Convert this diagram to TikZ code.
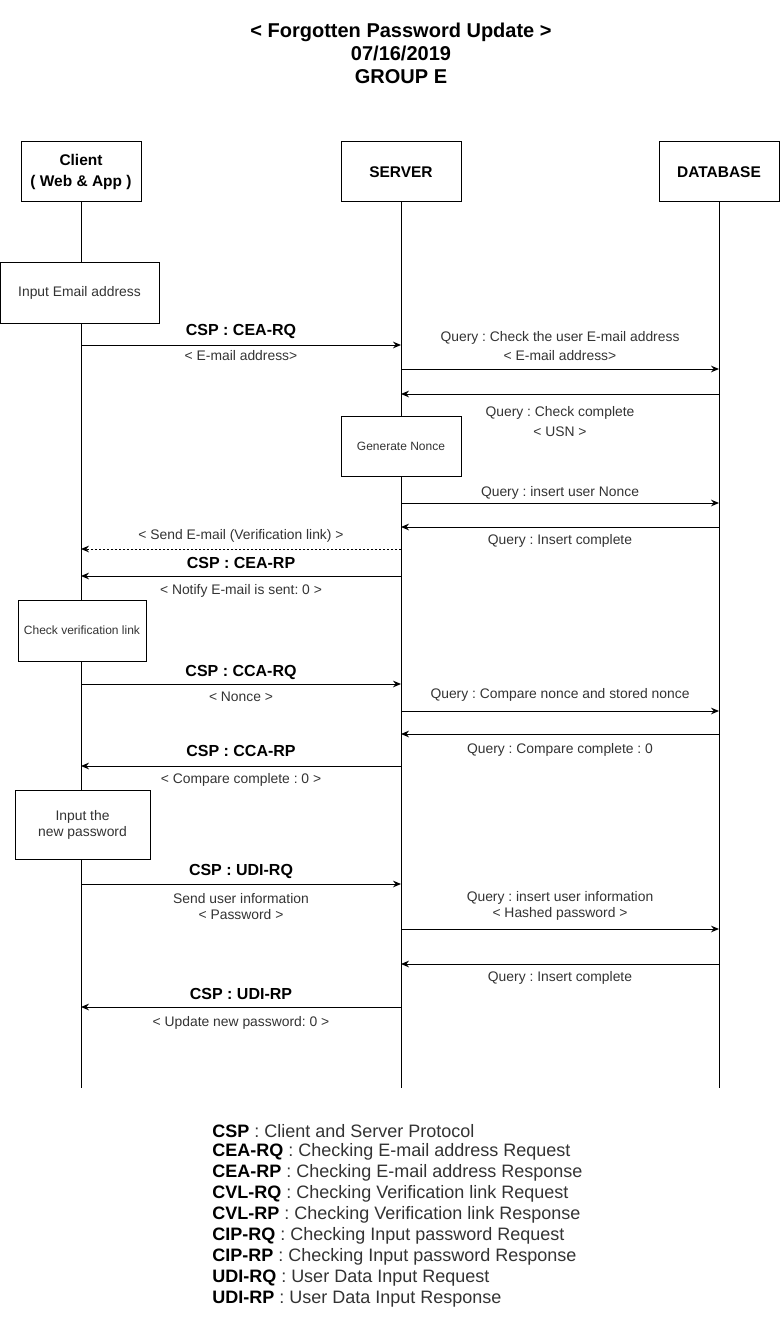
\documentclass[tikz,border=0pt]{standalone}
\usepackage{fontspec}
\setmainfont{Liberation Sans}
\usetikzlibrary{arrows.meta}
\definecolor{TxtClr}{RGB}{51,51,51}
\frenchspacing

\tikzset{
  actor/.style={draw, line width=0.75pt, fill=white, minimum width=90pt,
    minimum height=45pt, align=center, font=\fontsize{11.6}{15.5}\selectfont\bfseries},
  task/.style={draw, line width=0.75pt, fill=white, align=center, text=TxtClr,
    inner sep=0pt},
  life/.style={line width=0.75pt},
  msg/.style={line width=0.75pt, -{Stealth[length=6pt,width=5pt,inset=2pt]}},
  csp/.style={inner sep=0pt, font=\fontsize{12}{14}\selectfont\bfseries},
  qry/.style={inner sep=0pt, align=center, text=TxtClr, font=\fontsize{10.4}{12}\selectfont},
  legend/.style={inner sep=0pt, anchor=west, text=TxtClr, font=\fontsize{13.5}{15.75}\selectfont},
}

\begin{document}
\begin{tikzpicture}[x=0.75pt,y=-0.75pt]
\useasboundingbox (0,0) rectangle (779,1330);

% title
\node[align=center, font=\fontsize{15}{17.25}\selectfont\bfseries] (title) at (401,53)
  {< Forgotten Password Update >\\07/16/2019\\GROUP E};

% actors
\node[actor] (cli) at (81,172) {Client\\( Web \& App )};
\node[actor] (srv) at (401,172) {SERVER};
\node[actor] (db) at (719,172) {DATABASE};

\coordinate (cliEnd) at (81,1088);
\coordinate (srvEnd) at (401,1088);
\coordinate (dbEnd) at (719,1088);

\draw[life] (cli.south) -- (cliEnd);
\draw[life] (srv.south) -- (srvEnd);
\draw[life] (db.south) -- (dbEnd);

% local tasks
\node[task, minimum width=119.25pt, minimum height=45.75pt,
  font=\fontsize{10.4}{12}\selectfont] (inMail) at (79.5,292.5) {Input Email address};
\node[task, minimum width=90pt, minimum height=45pt,
  font=\fontsize{9}{11}\selectfont] (nonce) at (401,446) {Generate Nonce};
\node[task, minimum width=96pt, minimum height=45.75pt,
  font=\fontsize{9}{11}\selectfont] (chkLink) at (82,630.5) {Check verification link};
\node[task, minimum width=101.25pt, minimum height=51.75pt,
  font=\fontsize{10.4}{12}\selectfont] (inPw) at (82.5,824.5) {Input the\\new password};

% message rows on the lifelines
\foreach \r/\y in {a/345,b/369,c/394,d/503,e/527,f/549,g/576,h/684,i/711,j/734,k/766,
                   l/884,m/929,n/964,o/1007}{
  \coordinate (c\r) at (81,\y);
  \coordinate (s\r) at (401,\y);
  \coordinate (d\r) at (719,\y);
}

\draw[msg] (ca) -- (sa)
  node[csp, midway, yshift=10.5pt] {CSP : CEA-RQ}
  node[qry, midway, yshift=-8.25pt] {< E-mail address>};
\draw[msg] (sb) -- (db)
  node[qry, midway, yshift=17pt] {Query : Check the user E-mail address\\[2pt]< E-mail address>};
\draw[msg] (dc) -- (sc)
  node[qry, midway, yshift=-21pt] {Query : Check complete\\[3pt]< USN >};
\draw[msg] (sd) -- (dd)
  node[qry, midway, yshift=7.5pt] {Query : insert user Nonce};
\draw[msg] (de) -- (se)
  node[qry, midway, yshift=-10.5pt] {Query : Insert complete};
\draw[msg, dash pattern=on 1.5pt off 1.5pt] (sf) -- (cf)
  node[qry, midway, yshift=9.75pt] {< Send E-mail (Verification link) >};
\draw[msg] (sg) -- (cg)
  node[csp, midway, yshift=9.75pt] {CSP : CEA-RP}
  node[qry, midway, yshift=-11.25pt] {< Notify E-mail is sent: 0 >};
\draw[msg] (ch) -- (sh)
  node[csp, midway, yshift=9pt] {CSP : CCA-RQ}
  node[qry, midway, yshift=-9.75pt] {< Nonce >};
\draw[msg] (si) -- (di)
  node[qry, midway, yshift=12pt] {Query : Compare nonce and stored nonce};
\draw[msg] (dj) -- (sj)
  node[qry, midway, yshift=-12pt] {Query : Compare complete : 0};
\draw[msg] (sk) -- (ck)
  node[csp, midway, yshift=11.25pt] {CSP : CCA-RP}
  node[qry, midway, yshift=-10.5pt] {< Compare complete : 0 >};
\draw[msg] (cl) -- (sl)
  node[csp, midway, yshift=9.75pt] {CSP : UDI-RQ}
  node[qry, midway, yshift=-17.25pt] {Send user information\\< Password >};
\draw[msg] (sm) -- (dm)
  node[qry, midway, yshift=17.25pt] {Query : insert user information\\< Hashed password >};
\draw[msg] (dn) -- (sn)
  node[qry, midway, yshift=-10.5pt] {Query : Insert complete};
\draw[msg] (so) -- (co)
  node[csp, midway, yshift=9.75pt] {CSP : UDI-RP}
  node[qry, midway, yshift=-12pt] {< Update new password: 0 >};

% legend
\foreach \ab/\txt [count=\i from 0] in {
    CSP/Client and Server Protocol,
    CEA-RQ/Checking E-mail address Request,
    CEA-RP/Checking E-mail address Response,
    CVL-RQ/Checking Verification link Request,
    CVL-RP/Checking Verification link Response,
    CIP-RQ/Checking Input password Request,
    CIP-RP/Checking Input password Response,
    UDI-RQ/User Data Input Request,
    UDI-RP/User Data Input Response}{
  \node[legend] (leg\i) at (212,1131+21*\i) {\textcolor{black}{\bfseries \ab} : \txt};
}

\end{tikzpicture}
\end{document}
